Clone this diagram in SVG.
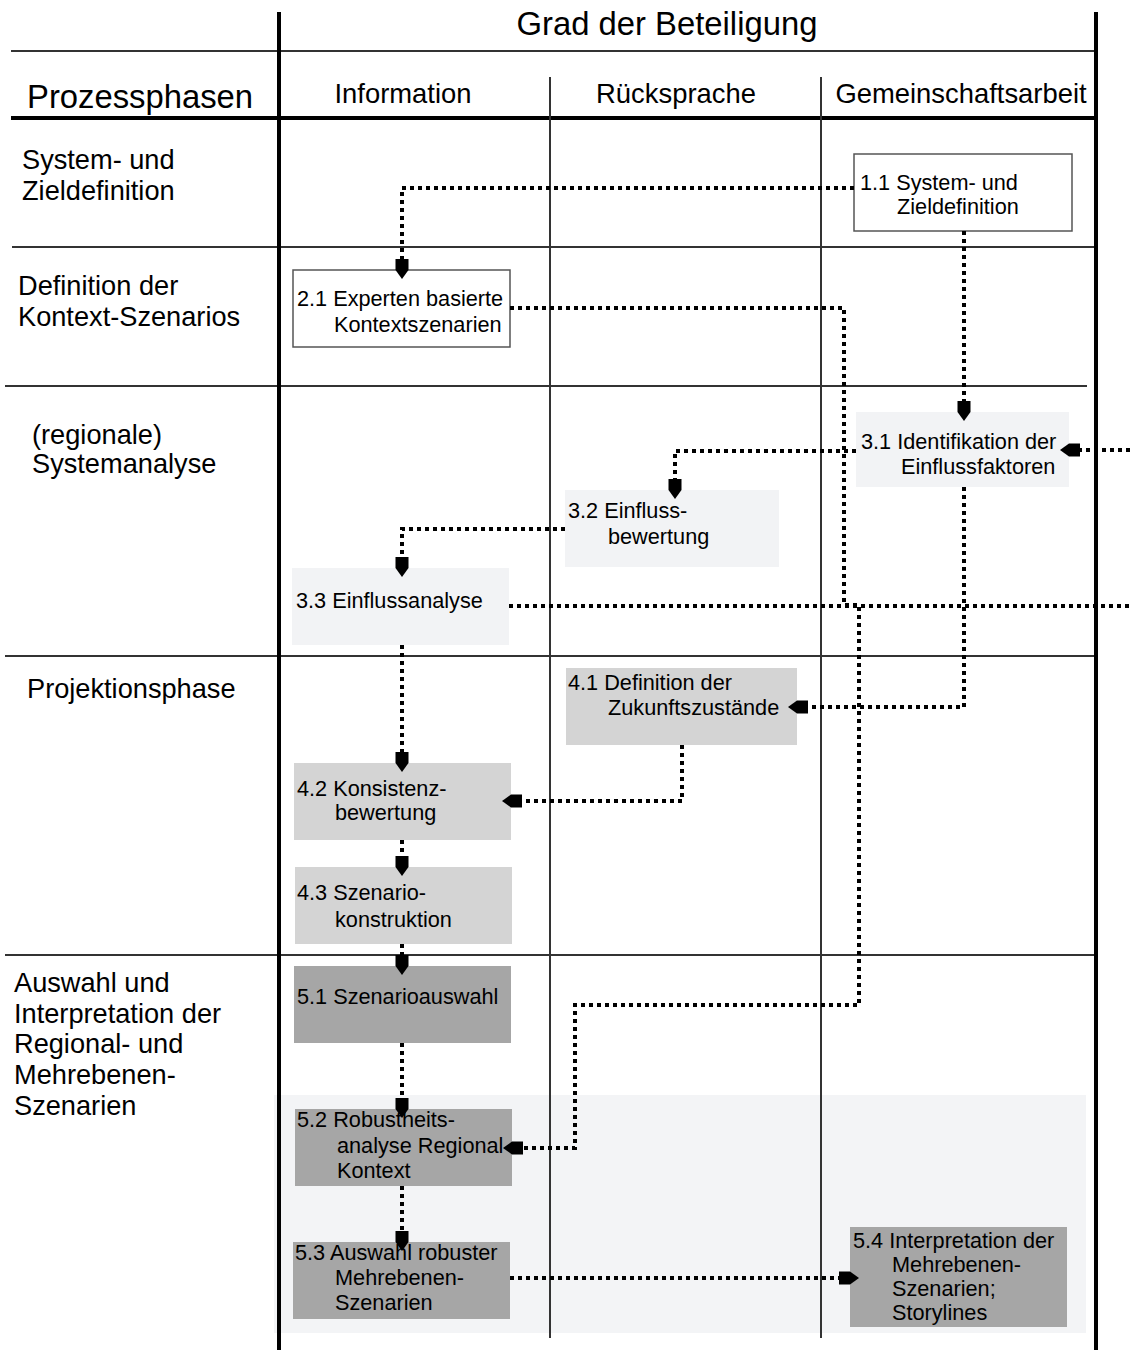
<svg xmlns="http://www.w3.org/2000/svg" width="1130" height="1351" viewBox="0 0 1130 1351">
<style>
text{font-family:"Liberation Sans",Arial,sans-serif;fill:#000}
.hdr{font-size:27.4px}
.ttl{font-size:32.8px}
.lbl{font-size:27.2px}
.nt{font-size:21.7px}
.thin{stroke:#333;stroke-width:2;fill:none}
.thick{stroke:#000;stroke-width:4;fill:none}
.bw{fill:#fff;stroke:#555;stroke-width:1.5}
.b3{fill:#f2f3f5}
.b4{fill:#d4d4d4}
.b5{fill:#a6a6a6}
.dot{stroke:#000;stroke-width:4;stroke-dasharray:4 4;fill:none}
.arr{marker-end:url(#ah)}
</style>
<defs>
<marker id="ah" markerUnits="userSpaceOnUse" markerWidth="21" markerHeight="15" viewBox="0 -7.5 21 15" refX="11" refY="0" orient="auto">
<path d="M0,-6.5 L11,-6.5 L20,0 L11,6.5 L0,6.5 Z" fill="#000"/>
</marker>
</defs>
<rect x="0" y="0" width="1130" height="1351" fill="#fff"/>
<rect id="panel" x="274" y="1095" width="812" height="238" fill="#f3f4f6"/>
<g id="grid">
<line class="thin" x1="11" y1="51" x2="1096" y2="51" stroke="#555"/>
<line class="thick" x1="11" y1="118" x2="1096" y2="118"/>
<line class="thin" x1="12" y1="247" x2="1096" y2="247"/>
<line class="thin" x1="5" y1="386" x2="1087" y2="386"/>
<line class="thin" x1="5" y1="656" x2="1096" y2="656"/>
<line class="thin" x1="5" y1="955" x2="1096" y2="955"/>
<line class="thin" x1="550" y1="77" x2="550" y2="1338"/>
<line class="thin" x1="821" y1="77" x2="821" y2="1338"/>
<line class="thick" x1="279" y1="12" x2="279" y2="1350"/>
<line class="thick" x1="1096" y1="12" x2="1096" y2="1350"/>
</g>
<g id="headers">
<text class="ttl" x="667" y="35" text-anchor="middle">Grad der Beteiligung</text>
<text class="ttl" x="27" y="108">Prozessphasen</text>
<text class="hdr" x="403" y="103" text-anchor="middle">Information</text>
<text class="hdr" x="676" y="103" text-anchor="middle">Rücksprache</text>
<text class="hdr" x="961" y="103" text-anchor="middle">Gemeinschaftsarbeit</text>
</g>
<g id="phases">
<text class="lbl" x="22" y="169">System- und</text>
<text class="lbl" x="22" y="200">Zieldefinition</text>
<text class="lbl" x="18" y="295">Definition der</text>
<text class="lbl" x="18" y="326">Kontext-Szenarios</text>
<text class="lbl" x="32" y="444">(regionale)</text>
<text class="lbl" x="32" y="473">Systemanalyse</text>
<text class="lbl" x="27" y="698">Projektionsphase</text>
<text class="lbl" x="14" y="992">Auswahl und</text>
<text class="lbl" x="14" y="1023">Interpretation der</text>
<text class="lbl" x="14" y="1053">Regional- und</text>
<text class="lbl" x="14" y="1084">Mehrebenen-</text>
<text class="lbl" x="14" y="1115">Szenarien</text>
</g>
<g id="n11"><rect class="bw" x="854" y="154" width="218" height="77"/><text class="nt" x="860" y="190">1.1 System- und</text><text class="nt" x="897" y="214">Zieldefinition</text></g>
<g id="n21"><rect class="bw" x="293" y="270" width="217" height="77"/><text class="nt" x="297" y="306">2.1 Experten basierte</text><text class="nt" x="334" y="332">Kontextszenarien</text></g>
<g id="n31"><rect class="b3" x="856" y="412" width="213" height="75"/><text class="nt" x="861" y="449">3.1 Identifikation der</text><text class="nt" x="901" y="474">Einflussfaktoren</text></g>
<g id="n32"><rect class="b3" x="565" y="490" width="214" height="77"/><text class="nt" x="568" y="518">3.2 Einfluss-</text><text class="nt" x="608" y="544">bewertung</text></g>
<g id="n33"><rect class="b3" x="292" y="568" width="217" height="77"/><text class="nt" x="296" y="608">3.3 Einflussanalyse</text></g>
<g id="n41"><rect class="b4" x="566" y="668" width="231" height="77"/><text class="nt" x="568" y="690">4.1 Definition der</text><text class="nt" x="608" y="715">Zukunftszustände</text></g>
<g id="n42"><rect class="b4" x="294" y="763" width="217" height="77"/><text class="nt" x="297" y="796">4.2 Konsistenz-</text><text class="nt" x="335" y="820">bewertung</text></g>
<g id="n43"><rect class="b4" x="295" y="867" width="217" height="77"/><text class="nt" x="297" y="900">4.3 Szenario-</text><text class="nt" x="335" y="927">konstruktion</text></g>
<g id="n51"><rect class="b5" x="294" y="966" width="217" height="77"/><text class="nt" x="297" y="1004">5.1 Szenarioauswahl</text></g>
<g id="n52"><rect class="b5" x="295" y="1109" width="217" height="77"/><text class="nt" x="297" y="1127">5.2 Robustheits-</text><text class="nt" x="337" y="1153">analyse Regional</text><text class="nt" x="337" y="1178">Kontext</text></g>
<g id="n53"><rect class="b5" x="293" y="1242" width="217" height="77"/><text class="nt" x="295" y="1260">5.3 Auswahl robuster</text><text class="nt" x="335" y="1285">Mehrebenen-</text><text class="nt" x="335" y="1310">Szenarien</text></g>
<g id="n54"><rect class="b5" x="850" y="1227" width="217" height="100"/><text class="nt" x="853" y="1248">5.4 Interpretation der</text><text class="nt" x="892" y="1272">Mehrebenen-</text><text class="nt" x="892" y="1296">Szenarien;</text><text class="nt" x="892" y="1320">Storylines</text></g>
<g id="connectors">
<path class="dot arr" d="M854,188 H402 V270"/>
<path class="dot arr" d="M510,308 H844 V605 H859 V1005 H575 V1148 H512"/>
<path class="dot arr" d="M964,231 V412"/>
<path class="dot arr" d="M1130,450 H1069"/>
<path class="dot arr" d="M856,451 H675 V490"/>
<path class="dot arr" d="M565,529 H402 V568"/>
<path class="dot" d="M509,606 H1130"/>
<path class="dot arr" d="M402,645 V763"/>
<path class="dot arr" d="M964,487 V707 H797"/>
<path class="dot arr" d="M682,745 V801 H511"/>
<path class="dot arr" d="M402,840 V867"/>
<path class="dot arr" d="M402,944 V966"/>
<path class="dot arr" d="M402,1043 V1109"/>
<path class="dot arr" d="M402,1186 V1242"/>
<path class="dot arr" d="M510,1278 H850"/>
</g>
</svg>
